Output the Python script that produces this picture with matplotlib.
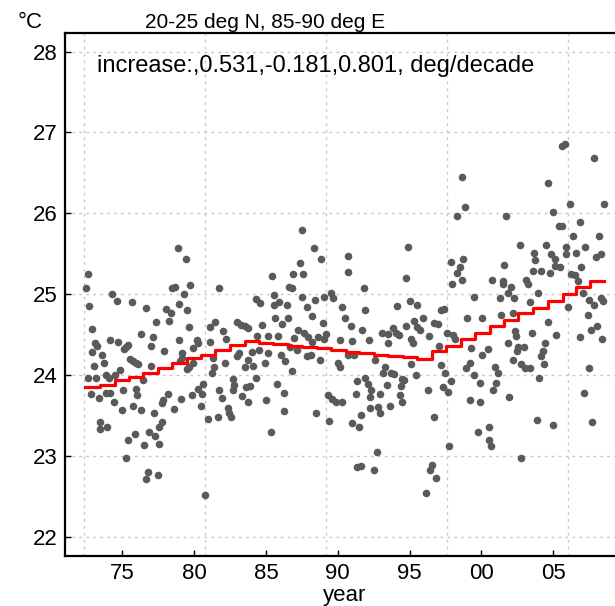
import matplotlib.pyplot as plt

plt.rcParams['font.family'] = ['Liberation Sans', 'DejaVu Sans']

# monthly SST, 20-25N 85-90E
sst_year = [
    # 1972-1980
    78.85, 79.41, 72.59, 72.45, 78.67, 78.48, 79.73, 74.26, 79.29, 72.68,
    74.61, 75.65, 76.65, 78.02, 78.39, 78.95, 79.50, 72.87, 77.32, 78.25,
    79.64, 76.32, 77.11, 77.00, 74.17, 74.72, 73.22, 73.10, 75.26, 75.10,
    75.42, 78.95, 80.18, 80.25, 79.94, 72.92, 73.59, 77.90, 79.13, 75.56,
    75.77, 75.95, 76.12, 73.73, 73.05, 74.84, 77.00, 79.18, 79.02, 79.94,
    79.67, 79.50, 73.87, 74.10, 72.59, 73.17, 74.49, 76.46, 80.64, 72.82,
    73.38, 73.87, 74.14, 75.07, 75.93, 76.02, 74.40, 78.16, 77.86, 77.79,
    79.06, 79.83, 80.25, 80.52, 80.48, 74.96, 75.75, 76.30, 77.23, 78.57,
    73.45, 73.47, 73.94, 77.74, 77.58, 75.42, 75.86, 76.88, 77.28, 77.58,
    76.53, 75.28, 76.77, 76.63, 77.51, 80.76,
    # 1981-1990
    87.48, 88.36, 88.83, 87.34, 85.42, 86.90, 87.58, 81.75, 86.60, 86.83,
    85.56, 84.28, 84.58, 85.58, 85.90, 86.44, 87.48, 88.41, 89.06, 89.52,
    89.69, 90.31, 87.83, 88.18, 85.63, 86.14, 86.55, 81.45, 81.10, 81.98,
    82.24, 81.10, 83.00, 83.26, 83.54, 83.77, 84.74, 84.40, 85.16, 85.86,
    87.20, 87.67, 86.97, 87.95, 88.22, 88.60, 88.94, 89.15, 89.06, 90.15,
    83.12, 82.96, 84.00, 83.77, 83.54, 84.12, 84.54, 85.16, 84.93, 86.04,
    86.32, 86.83, 86.67, 87.13, 87.83, 88.13, 88.76, 89.99, 90.15, 81.33,
    81.40, 81.27, 82.15, 81.73, 81.91, 82.73, 82.80, 82.73, 83.35, 83.58,
    83.89, 84.30, 83.77, 85.00, 85.77, 86.23, 89.34, 89.62, 89.85, 90.27,
    80.99, 81.68, 82.38, 82.43, 82.56, 86.23, 88.48, 89.38, 85.33,
    # 1990-2000
    90.68, 90.68, 91.82, 94.86, 94.74, 97.92, 98.73, 98.50, 98.27, 98.62,
    97.97, 99.50, 91.89, 90.50, 94.16, 95.02, 95.53, 97.22, 97.41, 99.01,
    100.05, 90.89, 91.66, 91.01, 92.17, 93.05, 93.51, 93.86, 94.09, 94.26,
    93.51, 94.74, 95.32, 95.55, 95.95, 95.72, 95.09, 95.25, 96.34, 96.71,
    96.95, 97.62, 98.04, 98.15, 97.04, 99.27, 100.05, 90.73, 91.15, 92.59,
    93.28, 93.17, 93.74, 93.91, 95.09, 95.42, 97.22, 97.46, 98.96, 99.20,
    99.50, 99.87, 91.36, 91.89, 92.08, 92.35, 92.24, 91.24, 92.93, 93.40,
    94.44, 94.63, 94.40, 94.33, 94.44, 92.24, 92.82, 92.93, 93.63, 96.25,
    97.36, 97.69, 97.88, 99.20, 99.89, 91.01, 91.47, 91.59, 96.69, 99.78,
    92.70, 97.73, 91.36, 91.61, 92.52, 96.58, 96.41, 96.81, 96.13, 98.30,
    98.85, 98.63,
    # 2000-2008
    105.62, 105.81, 107.83, 104.65, 106.16, 108.54, 101.70, 104.99, 105.39, 105.62,
    106.85, 106.39, 108.20, 102.72, 104.53, 105.92, 105.92, 106.62, 107.20, 104.88,
    105.11, 105.16, 105.46, 108.01, 108.31, 101.59, 106.97, 103.65, 103.72, 103.60,
    104.18, 104.76, 106.27, 106.55, 106.74, 100.77, 101.52, 101.52, 102.05, 103.14,
    103.26, 101.82, 101.28, 102.28, 103.95, 103.37, 106.04, 107.08, 107.48, 107.85,
    108.31, 108.47, 101.40, 102.21, 104.65, 105.23, 102.37, 102.44, 103.53, 107.43,
    107.62, 108.08, 106.85, 108.41, 101.82, 104.42, 100.47, 102.56, 102.98, 102.49,
    104.30, 104.14, 102.17, 102.79, 103.07, 103.37, 104.37, 100.94, 101.17, 101.05,
    100.82, 104.00, 107.50, 101.91, 107.15, 103.84, 105.00, 107.71, 100.52, 100.52,
    100.66, 102.73,
]
sst_value = [
    25.57, 25.43, 25.25, 25.07, 25.09, 25.07, 25.11, 25.00, 25.00, 24.85,
    24.91, 24.90, 24.83, 24.81, 24.76, 24.88, 24.80, 24.57, 24.66, 24.67,
    24.59, 24.51, 24.47, 24.36, 24.43, 24.41, 24.36, 24.39, 24.34, 24.32,
    24.37, 24.43, 24.43, 24.39, 24.33, 24.28, 24.25, 24.30, 24.27, 24.20,
    24.17, 24.15, 24.13, 24.15, 24.11, 24.06, 24.11, 24.21, 24.17, 24.15,
    24.10, 24.07, 24.00, 23.96, 23.96, 23.96, 24.00, 23.94, 23.89, 23.77,
    23.71, 23.78, 23.78, 23.81, 23.83, 23.75, 23.66, 23.77, 23.69, 23.65,
    23.70, 23.75, 23.82, 23.77, 23.62, 23.56, 23.61, 23.57, 23.53, 23.58,
    23.42, 23.33, 23.36, 23.42, 23.35, 23.19, 23.27, 23.30, 23.25, 23.15,
    23.13, 22.97, 22.80, 22.71, 22.76, 22.51,
    25.79, 25.57, 25.44, 25.38, 25.22, 25.25, 25.25, 25.08, 25.09, 25.08,
    24.99, 24.94, 24.89, 24.87, 24.90, 24.87, 24.96, 24.93, 24.96, 25.01,
    24.95, 24.84, 24.84, 24.73, 24.70, 24.63, 24.71, 24.66, 24.59, 24.54,
    24.45, 24.41, 24.66, 24.62, 24.60, 24.58, 24.62, 24.48, 24.48, 24.48,
    24.56, 24.52, 24.46, 24.47, 24.41, 24.47, 24.64, 24.51, 24.44, 24.43,
    24.27, 24.23, 24.28, 24.19, 24.10, 24.11, 24.31, 24.27, 24.15, 24.25,
    24.17, 24.05, 24.35, 24.31, 24.23, 24.25, 24.18, 24.15, 24.10, 24.21,
    24.10, 24.03, 24.15, 23.81, 23.72, 23.95, 23.88, 23.81, 23.74, 23.85,
    23.86, 23.96, 23.67, 23.69, 23.89, 23.78, 23.75, 23.70, 23.67, 23.67,
    23.45, 23.48, 23.59, 23.53, 23.48, 23.55, 23.53, 23.43, 23.29,
    25.47, 25.27, 25.08, 25.58, 25.20, 25.40, 25.43, 25.34, 25.26, 25.18,
    25.13, 24.97, 24.80, 24.71, 24.85, 24.92, 24.87, 24.80, 24.81, 24.71,
    24.71, 24.60, 24.56, 24.42, 24.43, 24.52, 24.51, 24.58, 24.52, 24.50,
    24.40, 24.60, 24.67, 24.59, 24.70, 24.56, 24.44, 24.40, 24.48, 24.64,
    24.63, 24.52, 24.50, 24.45, 24.36, 24.33, 24.25, 24.25, 24.25, 24.19,
    24.10, 24.02, 24.02, 24.01, 24.14, 24.00, 24.12, 24.02, 24.08, 24.15,
    24.00, 23.90, 23.92, 23.96, 23.89, 23.81, 23.73, 23.77, 23.77, 23.87,
    23.95, 23.94, 23.86, 23.75, 23.67, 23.59, 23.60, 23.53, 23.61, 23.81,
    23.85, 23.79, 23.92, 23.69, 23.66, 23.40, 23.35, 23.50, 23.48, 23.29,
    23.05, 23.12, 22.86, 22.87, 22.82, 22.89, 22.83, 22.72, 22.54, 25.96,
    26.08, 26.45,
    26.83, 26.86, 26.68, 26.37, 26.12, 26.12, 25.96, 26.02, 25.84, 25.84,
    25.89, 25.72, 25.72, 25.61, 25.61, 25.58, 25.49, 25.51, 25.58, 25.50,
    25.43, 25.35, 25.34, 25.46, 25.50, 25.36, 25.34, 25.51, 25.42, 25.28,
    25.28, 25.26, 25.25, 25.24, 25.16, 25.18, 25.16, 25.13, 25.09, 25.18,
    25.13, 25.01, 24.95, 24.95, 25.01, 24.90, 24.84, 25.01, 24.93, 24.87,
    24.95, 24.91, 24.74, 24.77, 24.66, 24.50, 24.54, 24.48, 24.52, 24.74,
    24.55, 24.60, 24.47, 24.44, 24.39, 24.39, 24.32, 24.35, 24.34, 24.29,
    24.30, 24.23, 24.19, 24.14, 24.08, 24.09, 24.14, 24.10, 24.02, 23.90,
    23.81, 23.96, 24.08, 23.73, 23.78, 23.44, 23.38, 23.42, 23.36, 23.20,
    23.12, 22.97,
]

# piecewise trend (0.531, -0.181, 0.801 deg/decade), drawn as yearly steps
trend_start = [72.40, 73.45, 74.47, 75.45, 76.45, 77.47, 78.47, 79.47, 80.47,
               81.47, 82.50, 83.52, 84.50, 85.52, 86.53, 87.50, 88.53, 89.55,
               90.55, 91.50, 92.50, 93.52, 94.55, 95.52, 96.55, 97.57, 98.60,
               99.57, 100.58, 101.60, 102.58, 103.60, 104.63, 105.65, 106.60, 107.57]
trend_value = [23.85, 23.88, 23.94, 23.98, 24.03, 24.09, 24.15, 24.21, 24.25,
               24.31, 24.37, 24.42, 24.40, 24.38, 24.36, 24.35, 24.33, 24.31,
               24.28, 24.27, 24.25, 24.23, 24.22, 24.20, 24.29, 24.36, 24.44,
               24.52, 24.60, 24.68, 24.76, 24.83, 24.91, 25.00, 25.09, 25.16]
trend_end = 108.55

tick_years = [75, 80, 85, 90, 95, 100, 105]
tick_labels = ['75', '80', '85', '90', '95', '00', '05']
grid_years = [72.34, 80.76, 89.18, 97.60, 106.02]

fig = plt.figure(figsize=(6.15, 6.06), dpi=100)
ax = fig.add_axes([65 / 615, 50 / 606, 560 / 615, 523 / 606])

for g in grid_years:
    ax.axvline(g, color='#c8c8c8', lw=1, ls=(0, (2, 3)), zorder=0)
for g in range(22, 29):
    ax.axhline(g, color='#c8c8c8', lw=1, ls=(0, (2, 3)), zorder=0)

ax.scatter(sst_year, sst_value, s=30, color='#5a5a5a', lw=0, zorder=2)
ax.plot(trend_start + [trend_end], trend_value + [trend_value[-1]],
        drawstyle='steps-post', color='red', lw=2.3, zorder=3)

ax.set_xlim(71.01, 110.0)
ax.set_ylim(21.76, 28.23)
ax.set_xticks(tick_years)
ax.set_xticklabels(tick_labels)
ax.set_yticks(range(22, 29))
ax.tick_params(direction='in', length=4, width=1, labelsize=16, pad=5)
ax.spines['right'].set_visible(False)
for s in ['left', 'bottom', 'top']:
    ax.spines[s].set_linewidth(1.6)
ax.set_xlabel('year', fontsize=16, labelpad=1)

ax.text(73.24, 27.82, 'increase:,0.531,-0.181,0.801, deg/decade',
        fontsize=17, va='center', ha='left')
fig.text(18 / 615, 1 - 22 / 606, '°C', fontsize=16, va='center', ha='left')
fig.text(265 / 615, 1 - 22 / 606, '20-25 deg N, 85-90 deg E',
         fontsize=15, va='center', ha='center')

fig.savefig('out.png', dpi=100)
